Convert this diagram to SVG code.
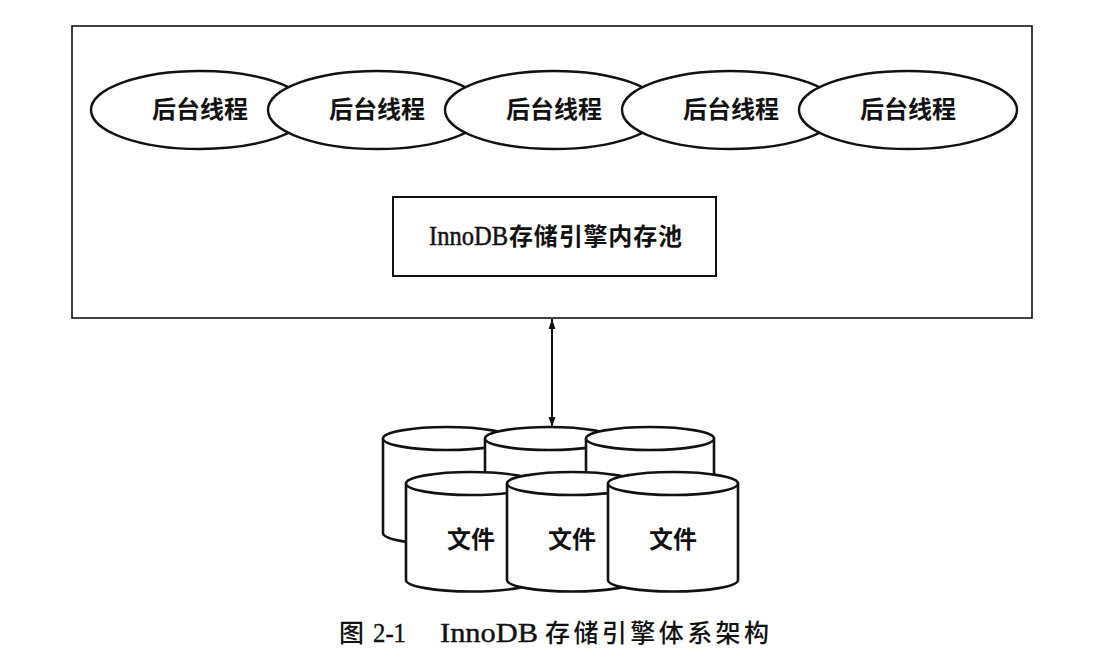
<svg xmlns="http://www.w3.org/2000/svg" width="1109" height="662" viewBox="0 0 1109 662">
<style>
.box{fill:#fff;stroke:#111;stroke-width:1.6}
.ell{fill:#fff;stroke:#111;stroke-width:2.4}
.cyl{fill:#fff;stroke:#111;stroke-width:2.6}
.lbl{font-family:"Noto Sans CJK SC",sans-serif;font-weight:bold;font-size:24px;fill:#111;text-anchor:middle}
.lat{font-family:"Liberation Serif",serif;font-size:27px;fill:#111;stroke:#111;stroke-width:0.5}
.cj{font-family:"Noto Sans CJK SC",sans-serif;font-size:24px;font-weight:bold;fill:#111}
.cap{font-family:"Noto Sans CJK SC",sans-serif;font-size:25px;font-weight:500;fill:#111}
.capl{font-family:"Liberation Serif",serif;font-size:28px;fill:#111;stroke:#111;stroke-width:0.4}
</style>
<defs>
<marker id="ah" viewBox="0 0 10 10" refX="10" refY="5" markerWidth="10" markerHeight="10" markerUnits="userSpaceOnUse" orient="auto-start-reverse">
<path d="M0,1.5 L10,5 L0,8.5 Z" fill="#111"/>
</marker>
</defs>
<rect width="1109" height="662" fill="#fff"/>
<g id="outer"><rect class="box" x="72" y="26" width="960" height="292"/></g>
<g id="t1"><ellipse class="ell" cx="200" cy="110" rx="109" ry="39"/><text class="lbl" x="200" y="118">后台线程</text></g>
<g id="t2"><ellipse class="ell" cx="377" cy="110" rx="109" ry="39"/><text class="lbl" x="377" y="118">后台线程</text></g>
<g id="t3"><ellipse class="ell" cx="554" cy="110" rx="109" ry="39"/><text class="lbl" x="554" y="118">后台线程</text></g>
<g id="t4"><ellipse class="ell" cx="731" cy="110" rx="109" ry="39"/><text class="lbl" x="731" y="118">后台线程</text></g>
<g id="t5"><ellipse class="ell" cx="908" cy="110" rx="109" ry="39"/><text class="lbl" x="908" y="118">后台线程</text></g>
<g id="pool"><rect class="box" x="393" y="197" width="323" height="79" style="stroke-width:2"/>
<text y="245"><tspan class="lat" x="429" textLength="79" lengthAdjust="spacingAndGlyphs">InnoDB</tspan><tspan class="cj" x="509" textLength="173" lengthAdjust="spacing">存储引擎内存池</tspan></text></g>
<g id="connectors"><line x1="552" y1="319" x2="552" y2="427" stroke="#111" stroke-width="2" marker-start="url(#ah)" marker-end="url(#ah)"/></g>
<g id="files">
<g id="b1"><path class="cyl" d="M383,438.5 V533 A64,11.5 0 0 0 511,533 V438.5"/><ellipse class="cyl" cx="447" cy="438.5" rx="64" ry="11.5"/></g>
<g id="b2"><path class="cyl" d="M485,438.5 V533 A64,11.5 0 0 0 613,533 V438.5"/><ellipse class="cyl" cx="549" cy="438.5" rx="64" ry="11.5"/></g>
<g id="b3"><path class="cyl" d="M586,438.5 V533 A64,11.5 0 0 0 714,533 V438.5"/><ellipse class="cyl" cx="650" cy="438.5" rx="64" ry="11.5"/></g>
<g id="f1"><path class="cyl" d="M406,483.5 V580 A65,11.5 0 0 0 536,580 V483.5"/><ellipse class="cyl" cx="471" cy="483.5" rx="65" ry="11.5"/><text class="lbl" x="471" y="548">文件</text></g>
<g id="f2"><path class="cyl" d="M507,483.5 V580 A65,11.5 0 0 0 637,580 V483.5"/><ellipse class="cyl" cx="572" cy="483.5" rx="65" ry="11.5"/><text class="lbl" x="572" y="548">文件</text></g>
<g id="f3"><path class="cyl" d="M608,483.5 V580 A65,11.5 0 0 0 738,580 V483.5"/><ellipse class="cyl" cx="673" cy="483.5" rx="65" ry="11.5"/><text class="lbl" x="673" y="548">文件</text></g>
</g>
<g id="caption"><text y="642"><tspan class="cap" x="339">图</tspan><tspan class="capl" x="373" textLength="33" lengthAdjust="spacingAndGlyphs">2-1</tspan><tspan class="capl" x="440" textLength="98" lengthAdjust="spacingAndGlyphs">InnoDB</tspan><tspan class="cap" x="545" textLength="224" lengthAdjust="spacing">存储引擎体系架构</tspan></text></g>
</svg>
